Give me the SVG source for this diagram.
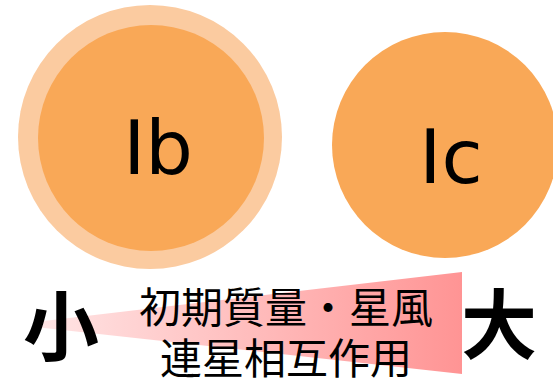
<svg xmlns="http://www.w3.org/2000/svg" width="553" height="379" viewBox="0 0 553 379">
  <style>
    .lbl { font-family: "DejaVu Sans", "Liberation Sans", sans-serif; font-size: 75px; fill: #000; text-anchor: middle; }
    .jp { font-family: "Noto Sans CJK JP", "Noto Sans", sans-serif; fill: #000; text-anchor: middle; }
    .big { font-size: 76px; font-weight: bold; }
    .mid { font-size: 42px; }
    .core { fill: #F9A857; }
    .ring { fill: #FBCBA0; }
  </style>
  <defs>
    <linearGradient id="wedgeGrad" x1="35" y1="0" x2="462" y2="0" gradientUnits="userSpaceOnUse">
      <stop offset="0" stop-color="#FFE6E6"/>
      <stop offset="1" stop-color="#FF9494"/>
    </linearGradient>
  </defs>
  <rect width="553" height="379" fill="#FFFFFF"/>
  <g id="node-Ib">
    <circle class="ring" cx="150" cy="137" r="132"/>
    <circle class="core" cx="151" cy="138" r="113"/>
    <text class="lbl" x="158" y="174">Ib</text>
  </g>
  <g id="node-Ic">
    <circle class="core" cx="445" cy="145" r="113"/>
    <text class="lbl" x="451" y="183">Ic</text>
  </g>
  <g id="scale">
    <polygon points="35,322 462,272 462,374 35,327" fill="url(#wedgeGrad)"/>
    <text class="jp big" x="61" y="355">小</text>
    <text class="jp big" x="499" y="353">大</text>
    <text class="jp mid" x="286" y="323">初期質量・星風</text>
    <text class="jp mid" x="286" y="374">連星相互作用</text>
  </g>
  <g id="connectors"/>
</svg>
